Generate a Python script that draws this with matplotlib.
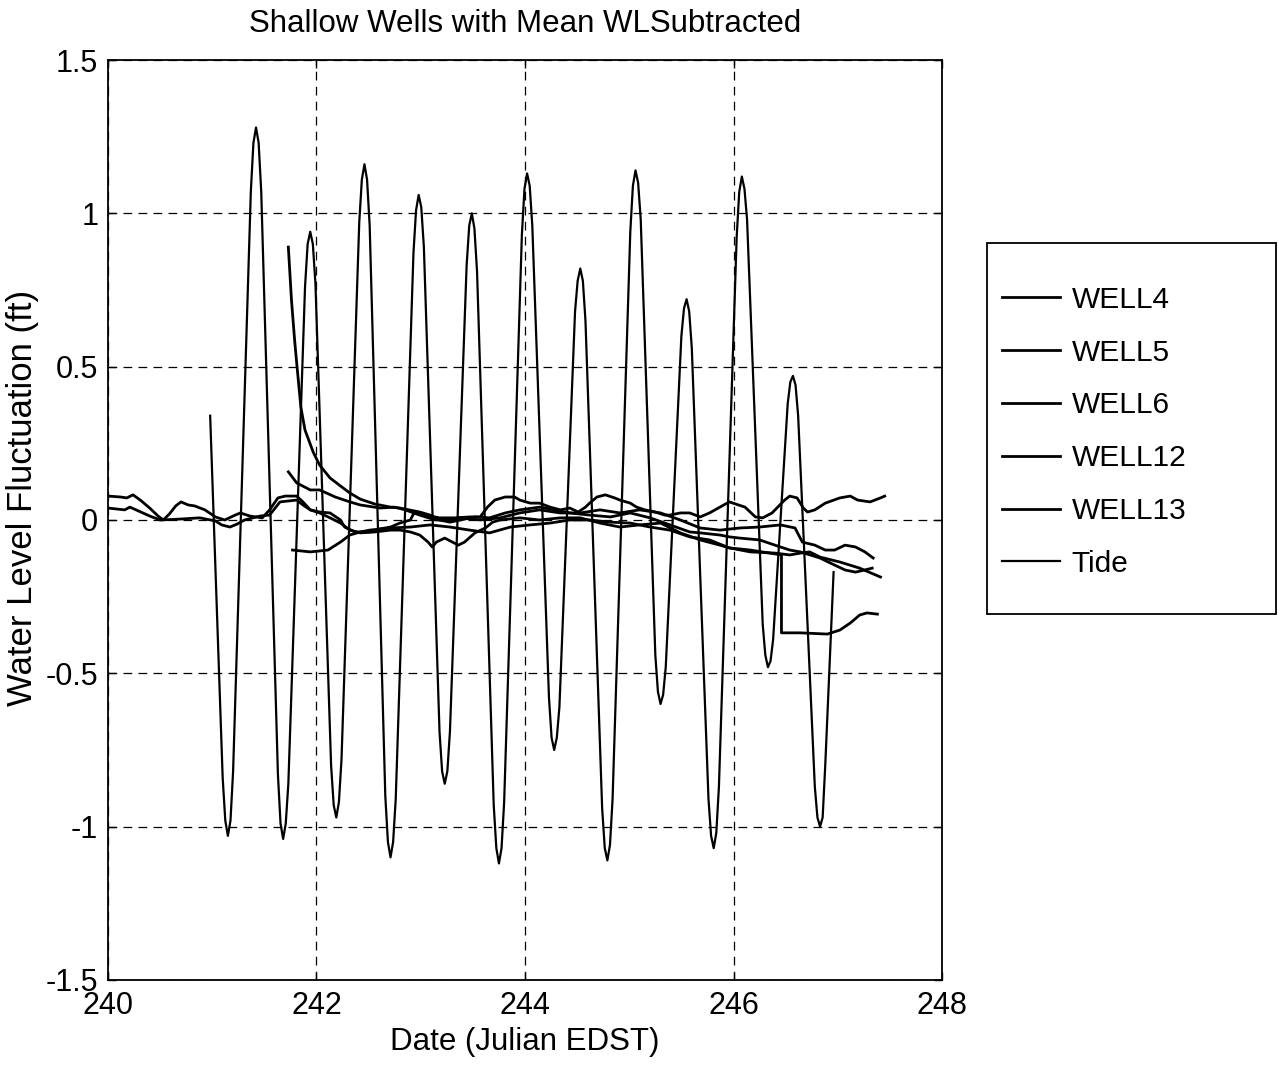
import matplotlib
matplotlib.use("Agg")
import matplotlib.pyplot as plt
from matplotlib.patches import Rectangle

plt.rcParams['font.family'] = ['Liberation Sans', 'DejaVu Sans']
plt.rcParams['axes.unicode_minus'] = False

# values (day, ft)
tide_day = [240.98, 241.10, 241.125, 241.15, 241.175, 241.20, 241.37, 241.395, 241.42, 241.445,
            241.47, 241.63, 241.655, 241.68, 241.705, 241.73, 241.89, 241.915, 241.94, 241.965,
            241.99, 242.14, 242.165, 242.19, 242.215, 242.24, 242.41, 242.435, 242.46, 242.485,
            242.51, 242.66, 242.685, 242.71, 242.735, 242.76, 242.93, 242.955, 242.98, 243.005,
            243.03, 243.18, 243.205, 243.23, 243.255, 243.28, 243.44, 243.465, 243.49, 243.515,
            243.54, 243.70, 243.725, 243.75, 243.775, 243.80, 243.97, 243.995, 244.02, 244.045,
            244.07, 244.23, 244.255, 244.28, 244.305, 244.33, 244.48, 244.505, 244.53, 244.555,
            244.58, 244.74, 244.765, 244.79, 244.815, 244.84, 245.01, 245.035, 245.06, 245.085,
            245.11, 245.25, 245.275, 245.30, 245.325, 245.35, 245.50, 245.525, 245.55, 245.575,
            245.60, 245.76, 245.785, 245.81, 245.835, 245.86, 246.03, 246.055, 246.08, 246.105,
            246.13, 246.28, 246.305, 246.33, 246.355, 246.38, 246.52, 246.545, 246.57, 246.595,
            246.62, 246.78, 246.805, 246.83, 246.855, 246.88, 246.96]
tide_val = [0.34, -0.84, -0.98, -1.03, -0.98, -0.82, 1.07, 1.23, 1.28, 1.23,
            1.07, -0.83, -0.99, -1.04, -0.99, -0.86, 0.76, 0.90, 0.94, 0.90,
            0.77, -0.80, -0.93, -0.97, -0.92, -0.78, 0.97, 1.11, 1.16, 1.11,
            0.96, -0.90, -1.05, -1.10, -1.05, -0.91, 0.87, 1.01, 1.06, 1.02,
            0.89, -0.69, -0.82, -0.86, -0.82, -0.69, 0.83, 0.96, 1.00, 0.95,
            0.81, -0.93, -1.07, -1.12, -1.07, -0.92, 0.93, 1.08, 1.13, 1.09,
            0.96, -0.58, -0.71, -0.75, -0.71, -0.61, 0.68, 0.78, 0.82, 0.78,
            0.65, -0.94, -1.07, -1.11, -1.06, -0.91, 0.94, 1.09, 1.14, 1.10,
            0.98, -0.44, -0.56, -0.60, -0.57, -0.48, 0.60, 0.69, 0.72, 0.68,
            0.56, -0.91, -1.03, -1.07, -1.02, -0.87, 0.92, 1.07, 1.12, 1.08,
            0.98, -0.34, -0.44, -0.48, -0.46, -0.39, 0.38, 0.45, 0.47, 0.44,
            0.34, -0.87, -0.97, -1.00, -0.97, -0.80, -0.17]

well4_day = [240.00, 240.12, 240.18, 240.24, 240.31, 240.40, 240.48, 240.53, 240.59, 240.65,
             240.70, 240.77, 240.83, 240.93, 241.03, 241.12, 241.22, 241.27, 241.36, 241.48,
             241.55, 241.63, 241.70, 241.81, 241.87, 241.94, 242.03, 242.13, 242.23, 242.27,
             242.37, 242.51, 242.61, 242.71, 242.80, 242.90, 242.94, 243.04, 243.18, 243.33,
             243.47, 243.57, 243.64, 243.71, 243.81, 243.90, 243.95, 244.05, 244.14, 244.24,
             244.34, 244.43, 244.51, 244.58, 244.62, 244.69, 244.77, 244.86, 244.91, 245.01,
             245.07, 245.15, 245.25, 245.34, 245.39, 245.49, 245.58, 245.68, 245.77, 245.87,
             245.96, 246.11, 246.21, 246.28, 246.37, 246.49, 246.54, 246.61, 246.67, 246.71,
             246.78, 246.88, 247.02, 247.12, 247.19, 247.31, 247.41, 247.45]
well4_val = [0.078, 0.075, 0.072, 0.082, 0.065, 0.039, 0.013, 0.0, 0.020, 0.046,
             0.059, 0.049, 0.046, 0.033, 0.010, 0.0, 0.016, 0.023, 0.013, 0.007,
             0.033, 0.072, 0.078, 0.078, 0.059, 0.033, 0.026, 0.023, 0.0, -0.023,
             -0.039, -0.039, -0.029, -0.023, -0.010, 0.0, 0.026, 0.016, 0.007, 0.007,
             0.010, 0.010, 0.042, 0.065, 0.075, 0.075, 0.065, 0.055, 0.055, 0.042,
             0.033, 0.039, 0.026, 0.042, 0.055, 0.075, 0.082, 0.072, 0.065, 0.055,
             0.042, 0.033, 0.026, 0.016, 0.016, 0.023, 0.023, 0.010, 0.023, 0.042,
             0.059, 0.042, 0.010, 0.007, 0.023, 0.065, 0.078, 0.072, 0.039, 0.026,
             0.033, 0.055, 0.072, 0.078, 0.065, 0.059, 0.072, 0.078]

well5_day = [240.00, 240.16, 240.21, 240.40, 240.50, 240.69, 240.88, 241.03, 241.09, 241.17,
             241.24, 241.31, 241.46, 241.55, 241.65, 241.81, 241.87, 241.94, 242.03, 242.13,
             242.23, 242.32, 242.42, 242.56, 242.71, 242.80, 242.90, 242.99, 243.07, 243.11,
             243.15, 243.23, 243.36, 243.42, 243.52, 243.62, 243.69, 243.76, 243.95, 244.14,
             244.34, 244.53, 244.72, 244.91, 245.10, 245.30, 245.49, 245.68, 245.87, 245.96,
             246.16, 246.40, 246.54, 246.64, 246.73, 246.83, 247.02, 247.21, 247.41]
well5_val = [0.039, 0.033, 0.042, 0.013, 0.0, 0.003, 0.007, -0.003, -0.016, -0.023,
             -0.013, 0.0, 0.013, 0.016, 0.059, 0.065, 0.049, 0.033, 0.023, 0.007,
             -0.010, -0.033, -0.042, -0.039, -0.033, -0.033, -0.039, -0.049, -0.072, -0.088,
             -0.072, -0.059, -0.082, -0.072, -0.042, -0.026, -0.007, 0.0, 0.007, 0.0,
             0.007, 0.007, -0.010, -0.023, -0.016, -0.010, -0.042, -0.065, -0.082, -0.091,
             -0.104, -0.108, -0.114, -0.108, -0.104, -0.121, -0.137, -0.157, -0.186]

well6_day = [241.73, 241.76, 241.79, 241.81, 241.85, 241.89, 241.97, 242.03, 242.13, 242.23,
             242.32, 242.42, 242.56, 242.71, 242.80, 242.99, 243.09, 243.18, 243.28, 243.38,
             243.52, 243.66, 243.81, 243.95, 244.14, 244.29, 244.43, 244.62, 244.82, 245.01,
             245.20, 245.39, 245.58, 245.68, 245.87, 245.96, 246.06, 246.25, 246.45, 246.54,
             246.64, 246.83, 246.97, 247.07, 247.17, 247.26, 247.33]
well6_val = [0.890, 0.717, 0.587, 0.512, 0.368, 0.293, 0.220, 0.179, 0.137, 0.111,
             0.088, 0.068, 0.052, 0.042, 0.039, 0.026, 0.016, 0.0, -0.007, 0.0,
             0.010, 0.007, 0.023, 0.033, 0.042, 0.033, 0.023, 0.016, 0.010, 0.023,
             0.007, -0.016, -0.039, -0.042, -0.049, -0.055, -0.059, -0.065, -0.088, -0.098,
             -0.104, -0.124, -0.147, -0.163, -0.170, -0.163, -0.157]

well12_day = [241.73, 241.81, 241.94, 242.03, 242.18, 242.32, 242.42, 242.61, 242.75, 242.85,
              242.99, 243.14, 243.28, 243.38, 243.57, 243.76, 243.95, 244.14, 244.34, 244.53,
              244.72, 244.91, 245.10, 245.30, 245.49, 245.68, 245.87, 246.06, 246.25, 246.45,
              246.59, 246.66, 246.78, 246.88, 246.97, 247.07, 247.17, 247.26, 247.34]
well12_val = [0.157, 0.121, 0.098, 0.098, 0.075, 0.059, 0.049, 0.039, 0.042, 0.033,
              0.016, 0.0, 0.0, 0.007, 0.0, 0.007, 0.023, 0.033, 0.023, 0.023,
              0.033, 0.023, 0.033, 0.023, 0.0, -0.026, -0.033, -0.026, -0.023, -0.016,
              -0.026, -0.072, -0.082, -0.098, -0.098, -0.082, -0.088, -0.104, -0.124]

well13_day = [241.77, 241.94, 242.03, 242.11, 242.23, 242.32, 242.42, 242.51, 242.71, 242.90,
              243.09, 243.28, 243.47, 243.66, 243.86, 244.05, 244.24, 244.43, 244.62, 244.82,
              245.01, 245.20, 245.39, 245.58, 245.77, 245.96, 246.16, 246.35, 246.46, 246.46,
              246.64, 246.90, 247.02, 247.12, 247.21, 247.28, 247.38]
well13_val = [-0.098, -0.104, -0.101, -0.098, -0.072, -0.049, -0.039, -0.033, -0.026, -0.023,
              -0.016, -0.023, -0.033, -0.042, -0.023, -0.016, -0.010, 0.0, 0.0, -0.007,
              -0.010, -0.023, -0.033, -0.055, -0.065, -0.091, -0.098, -0.108, -0.114, -0.368,
              -0.368, -0.372, -0.359, -0.336, -0.310, -0.303, -0.307]

labels = ['WELL4', 'WELL5', 'WELL6', 'WELL12', 'WELL13', 'Tide']
xticks = [240, 242, 244, 246, 248]
yticks = [-1.5, -1, -0.5, 0, 0.5, 1, 1.5]

fig = plt.figure(figsize=(12.78, 10.66), dpi=100)
ax = fig.add_axes([0.0845, 0.0807, 0.6526, 0.863])

series = [(well4_day, well4_val), (well5_day, well5_val), (well6_day, well6_val),
          (well12_day, well12_val), (well13_day, well13_val)]
handles = []
for (d, v), lab in zip(series, labels[:5]):
    h, = ax.plot(d, v, color='black', lw=2.0, label=lab)
    handles.append(h)
h, = ax.plot(tide_day, tide_val, color='black', lw=1.6, label=labels[5])
handles.append(h)

ax.set_xlim(240, 248)
ax.set_ylim(-1.5, 1.5)
ax.set_xticks(xticks)
ax.set_yticks(yticks)
ax.set_xticklabels([str(t) for t in xticks])
ax.set_yticklabels(['%g' % t for t in yticks])
ax.tick_params(direction='in', top=True, right=True, labelsize=22, length=6, width=1)
ax.tick_params(axis='x', pad=8)
ax.tick_params(axis='y', pad=7)
ax.grid(True, color='black', linestyle=(0, (7, 5)), lw=0.9)
for s in ax.spines.values():
    s.set_linewidth(1.3)

ax.set_title('Shallow Wells with Mean WLSubtracted', fontsize=22.5, pad=20)
ax.set_xlabel('Date (Julian EDST)', fontsize=22.5)
ax.set_ylabel('Water Level Fluctuation (ft)', fontsize=25)
ax.xaxis.set_label_coords(0.5, -0.051)
ax.yaxis.set_label_coords(-0.083, 0.524)

# legend box outside the axes
fig.add_artist(Rectangle((0.7723, 0.424), 0.2262, 0.348, transform=fig.transFigure,
                         fill=False, edgecolor='black', lw=1.3))
fig.legend(handles=handles, labels=labels, loc='upper left',
           bbox_to_anchor=(0.763, 0.757), frameon=False, fontsize=21.5,
           handlelength=1.94, handletextpad=0.4, labelspacing=0.83)

fig.savefig('out.png', dpi=100)
